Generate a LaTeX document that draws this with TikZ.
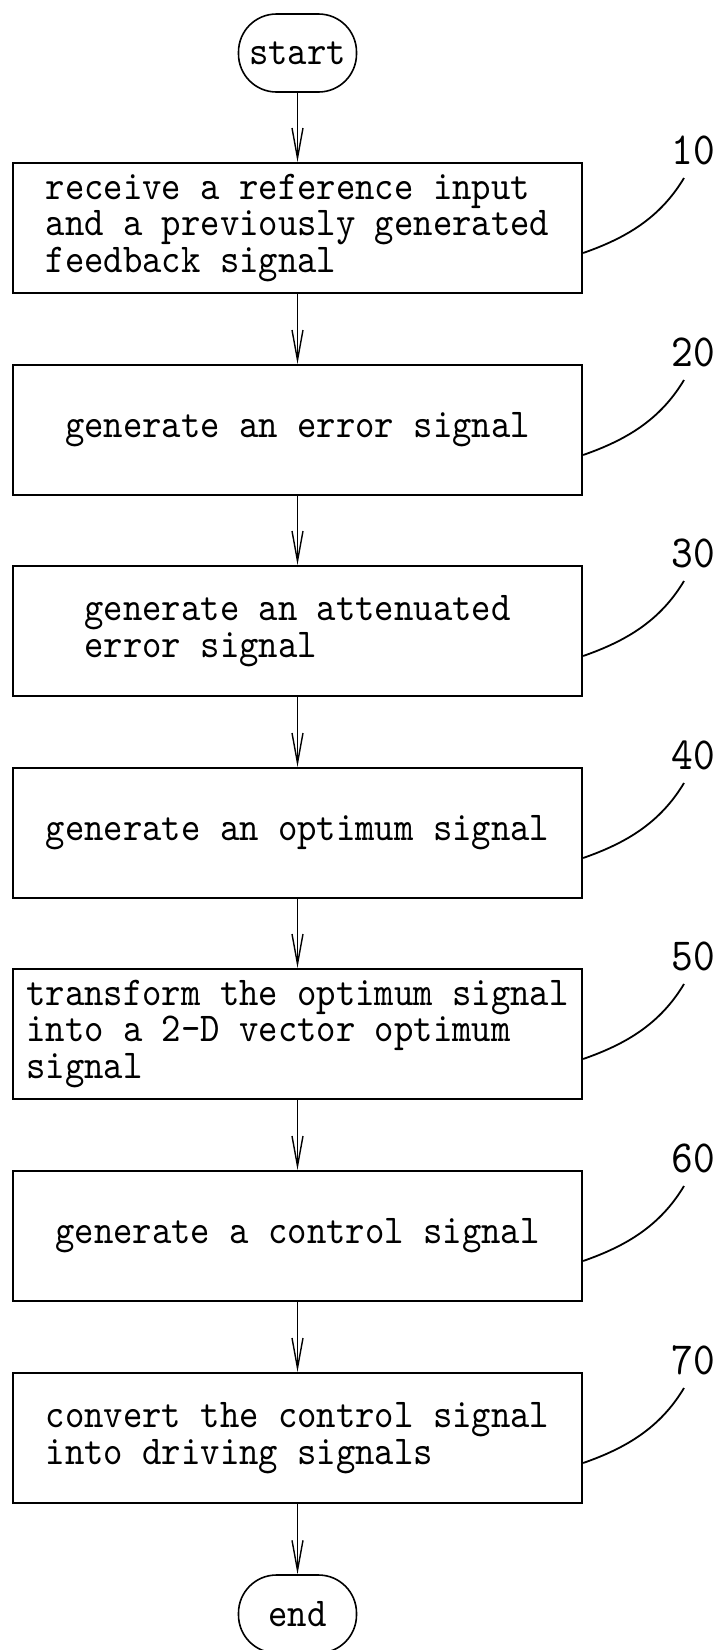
\documentclass[tikz,border=0pt]{standalone}
\usepackage{fontspec}
\newfontfamily\pfont{lmmono10-regular.otf}[FakeStretch=0.9]
\usetikzlibrary{arrows.meta}
\begin{document}
\begin{tikzpicture}[x=1pt,y=-1pt,
  box/.style={draw, line width=2.2pt, minimum width=569pt, minimum height=130pt,
    align=left, inner sep=0pt, font=\pfont\fontsize{41}{36.5}\selectfont},
  term/.style={draw, line width=1.6pt, rounded corners=38pt, minimum width=118pt,
    minimum height=78pt, inner sep=0pt, font=\pfont\fontsize{41}{41}\selectfont},
  flow/.style={line width=1.4pt, -{Straight Barb[length=30pt,width=11pt,line width=1.4pt]}},
  lead/.style={line width=1.8pt},
  num/.style={font=\pfont\fontsize{46}{46}\selectfont, inner sep=0pt}]
\useasboundingbox (0,0) rectangle (714,1650);
\fill[white] (0,0) rectangle (714,1650);

\node[term] (start) at (297.5,53) {start};

\node[box] (b1) at (297.5,228) {receive a reference input\\and a previously generated\\feedback signal};
\node[box] (b2) at (297.5,430) {generate an error signal};
\node[box] (b3) at (297.5,631) {generate an attenuated\\error signal};
\node[box] (b4) at (297.5,833) {generate an optimum signal};
\node[box] (b5) at (297.5,1034) {transform the optimum signal\\into a 2-D vector optimum\\signal};
\node[box] (b6) at (297.5,1236) {generate a control signal};
\node[box] (b7) at (297.5,1438) {convert the control signal\\into driving signals};

\node[term] (end) at (297.5,1614) {end};

\draw[flow] (start) -- (b1);
\draw[flow] (b1) -- (b2);
\draw[flow] (b2) -- (b3);
\draw[flow] (b3) -- (b4);
\draw[flow] (b4) -- (b5);
\draw[flow] (b5) -- (b6);
\draw[flow] (b6) -- (b7);
\draw[flow] (b7) -- (end);

\foreach \i/\t in {1/163,2/365,3/566,4/768,5/969,6/1171,7/1373}{
  \node[num] (n\i) at (693,\t-13) {\i0};
  \coordinate (e\i) at (684,\t+15);
  \draw[lead] ([yshift=-25pt]b\i.east) .. controls +(43,-15) and +(-24,40) .. (e\i);
}
\end{tikzpicture}
\end{document}
